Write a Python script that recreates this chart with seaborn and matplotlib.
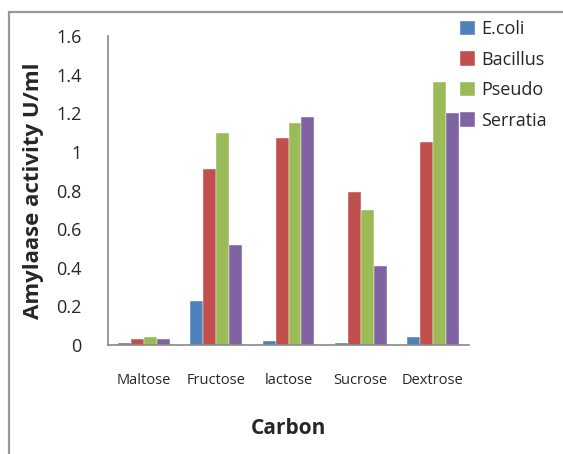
import matplotlib
matplotlib.use("Agg")
import matplotlib.pyplot as plt
from matplotlib.patches import Rectangle
import seaborn as sns
import pandas as pd
import numpy as np

carbons = ["Maltose", "Fructose", "lactose", "Sucrose", "Dextrose"]
organisms = ["E.coli", "Bacillus", "Pseudo", "Serratia"]
ecoli = [0.01, 0.23, 0.02, 0.01, 0.04]
bacillus = [0.03, 0.91, 1.07, 0.79, 1.05]
pseudo = [0.04, 1.10, 1.15, 0.70, 1.36]
serratia = [0.03, 0.52, 1.18, 0.41, 1.20]
colors = ["#4F81BD", "#C0504D", "#9BBB59", "#8064A2"]

rows = []
for org, vals in zip(organisms, [ecoli, bacillus, pseudo, serratia]):
    for c, v in zip(carbons, vals):
        rows.append({"Carbon": c, "Organism": org, "Activity": v})
df = pd.DataFrame(rows)

sns.set_style("white")
plt.rcParams["font.family"] = ["Open Sans", "DejaVu Sans"]

fig = plt.figure(figsize=(5.63, 4.54), dpi=100)

# outer chart-area frame, running off the right and bottom edges
frame = Rectangle((9, -20), 600, 454 - 12 + 20, transform=None,
                  fill=False, edgecolor="#999999", linewidth=1.6, clip_on=False)
fig.patches.append(frame)

ax = fig.add_axes([108 / 563, 1 - 345 / 454, (469 - 108) / 563, (345 - 36) / 454])

sns.barplot(data=df, x="Carbon", y="Activity", hue="Organism",
            order=carbons, hue_order=organisms, palette=colors,
            width=0.72, ax=ax, errorbar=None, saturation=1,
            edgecolor="white", linewidth=0.3)

ax.set_xlim(-0.5, len(carbons) - 0.5)
ax.set_ylim(0, 1.6)
ax.set_yticks(np.arange(0, 1.61, 0.2))
ax.set_yticklabels(["0", "0.2", "0.4", "0.6", "0.8", "1", "1.2", "1.4", "1.6"], fontsize=13)
ax.set_xticks(range(len(carbons)))
ax.set_xticklabels(carbons, fontsize=10.5)
ax.set_xticks(np.arange(-0.5, len(carbons), 1), minor=True)
ax.tick_params(axis="x", which="major", length=0, pad=20)
ax.tick_params(axis="x", which="minor", length=5, color="#888888", direction="out", width=1)
ax.tick_params(axis="y", which="major", length=6, color="#888888", direction="out", width=1, pad=13)

for s in ["top", "right"]:
    ax.spines[s].set_visible(False)
for s in ["left", "bottom"]:
    ax.spines[s].set_color("#888888")
    ax.spines[s].set_linewidth(1.2)

ax.set_ylabel("Amylaase activity U/ml", fontsize=16, fontweight="bold", labelpad=9)
ax.set_xlabel("Carbon", fontsize=15, fontweight="bold", labelpad=22)

handles, labels = ax.get_legend_handles_labels()
ax.legend(handles, labels, loc="upper left", bbox_to_anchor=(460 / 563, 1 - 20 / 454),
          bbox_transform=fig.transFigure, frameon=False, fontsize=13,
          handlelength=0.85, handleheight=0.85, handletextpad=0.3, labelspacing=0.7,
          borderaxespad=0, borderpad=0)

fig.savefig("out.png", dpi=100, bbox_inches=None)
